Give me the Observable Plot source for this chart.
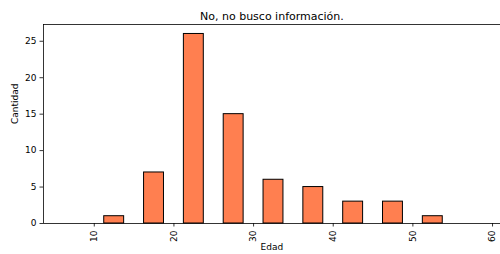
<!DOCTYPE html>
<html><head><meta charset="utf-8">
<script src="https://cdn.jsdelivr.net/npm/d3@7"></script>
<script src="https://cdn.jsdelivr.net/npm/@observablehq/plot@0.6"></script>
<style>body{margin:0;background:#fff}svg{display:block}</style>
</head><body><div id="chart"></div>
<script>
const title = "No, no busco información.";
const xLabel = "Edad";
const yLabel = "Cantidad";
const binStart = [5, 10, 15, 20, 25, 30, 35, 40, 45, 50, 55];
const binWidth = 5;
const counts = [0, 1, 7, 26, 15, 6, 5, 3, 3, 1, 0];
const xTicks = [10, 20, 30, 40, 50, 60];
const yTicks = [0, 5, 10, 15, 20, 25];

const data = binStart.map((s, i) => ({start: s, count: counts[i]}));
const rw = 0.5; // relative bar width
const font = "DejaVu Sans";

const chart = Plot.plot({
  width: 500, height: 254,
  marginLeft: 43, marginRight: 0, marginTop: 24, marginBottom: 31,
  style: {fontFamily: font, background: "#fff", overflow: "visible"},
  x: {domain: [3.625, 61.0]},
  y: {domain: [0, 27.3]},
  marks: [
    Plot.rectY(data, {
      x1: d => d.start + binWidth * (1 - rw) / 2,
      x2: d => d.start + binWidth * (1 + rw) / 2,
      y1: 0, y2: "count",
      fill: "#ff7f50", stroke: "black", strokeWidth: 1, inset: 0
    }),
    Plot.ruleY([0], {stroke: "black", strokeWidth: 0.8}),
    Plot.ruleY([27.3], {stroke: "black", strokeWidth: 0.8}),
    Plot.ruleX([3.625], {stroke: "black", strokeWidth: 0.8}),
    Plot.axisX({ticks: xTicks, tickSize: 3.5, tickPadding: 3.5, tickRotate: -90, fontSize: 9, label: null, stroke: "black", strokeWidth: 0.8, fill: "black"}),
    Plot.axisY({ticks: yTicks, tickSize: 3.5, tickPadding: 3.5, fontSize: 9, label: null, stroke: "black", strokeWidth: 0.8, fill: "black"}),
    Plot.text([title], {x: 32.3, frameAnchor: "top", dy: -12, fontSize: 11, fill: "black", text: d => d}),
    Plot.text([xLabel], {x: 32.3, frameAnchor: "bottom", dy: 26.5, fontSize: 9, fill: "black", text: d => d}),
    Plot.text([yLabel], {frameAnchor: "left", dx: -28, rotate: -90, fontSize: 9, fill: "black", text: d => d})
  ]
});
document.getElementById("chart").append(chart);
</script>
</body></html>
